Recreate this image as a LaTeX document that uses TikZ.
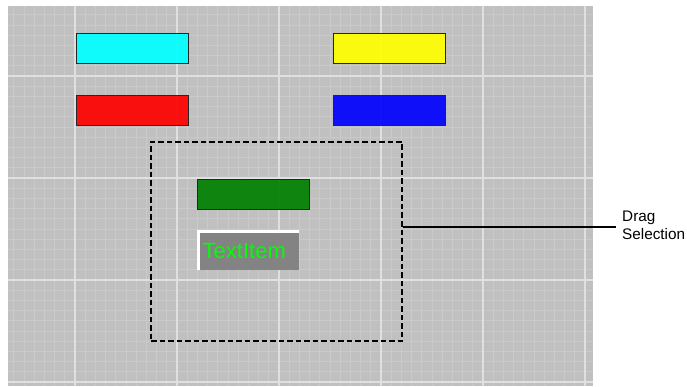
\documentclass[tikz,border=0pt]{standalone}
\usepackage{fontspec}
\setmainfont{Liberation Sans}
\begin{document}
\begin{tikzpicture}[x=1pt,y=-1pt,
  minorline/.style={draw=gridminor, line width=0.8pt},
  majorline/.style={draw=gridmajor, line width=1.2pt},
  colbox/.style={draw=black!85, line width=1pt, minimum width=112pt, minimum height=30pt,
    inner sep=0pt, anchor=north west, fill opacity=0.92},
  selbox/.style={draw=black, line width=2pt, dash pattern=on 5.5pt off 3pt,
    minimum width=251pt, minimum height=199pt, inner sep=0pt, anchor=north west},
  callout/.style={draw=black, line width=1.8pt},
  note/.style={font=\fontsize{15.3}{18}\selectfont, align=left, inner sep=0pt, anchor=north west}
]
\definecolor{canvasgrey}{HTML}{C0C0C0}
\definecolor{gridminor}{HTML}{CACACA}
\definecolor{gridmajor}{HTML}{E0E0E0}
\definecolor{itemgrey}{HTML}{808080}
\definecolor{itemcyan}{HTML}{00FFFF}
\definecolor{itemyellow}{HTML}{FFFF00}
\definecolor{itemred}{HTML}{FF0000}
\definecolor{itemblue}{HTML}{0000FF}
\definecolor{itemgreen}{HTML}{008000}
\definecolor{labelgreen}{HTML}{00FF00}

\useasboundingbox (0,0) rectangle (687,387);

% canvas with its grid
\fill[canvasgrey] (8,6) rectangle (593,386);
\begin{scope}
  \clip (8,6) rectangle (593,386);
  \foreach \k in {-7,...,52} {
    \draw[minorline] ({75+10.2*\k},6) -- ({75+10.2*\k},386);
  }
  \foreach \k in {-7,...,31} {
    \draw[minorline] (8,{76+10.2*\k}) -- (593,{76+10.2*\k});
  }
  \foreach \k in {0,...,5} {
    \draw[majorline] ({75+102*\k},6) -- ({75+102*\k},386);
  }
  \foreach \k in {0,...,3} {
    \draw[majorline] (8,{76+102*\k}) -- (593,{76+102*\k});
  }
\end{scope}

% coloured items
\node[colbox, fill=itemcyan]   (cyanbox)   at (76,33)  {};
\node[colbox, fill=itemyellow] (yellowbox) at (333,33) {};
\node[colbox, fill=itemred]    (redbox)    at (76,95)  {};
\node[colbox, fill=itemblue]   (bluebox)   at (333,95) {};
\node[colbox, fill=itemgreen]  (greenbox)  at (197,179) {};

% text item with raised bevel
\node[fill=itemgrey, fill opacity=0.95, minimum width=102pt, minimum height=40pt,
      inner sep=0pt, anchor=north west] (textitem) at (197,230) {};
\draw[white, line width=3pt]
  ([xshift=1.5pt]textitem.south west) |- ([yshift=-1.5pt]textitem.north east);
\node[anchor=base west, inner sep=0pt, text=labelgreen,
      font=\fontsize{22}{26}\selectfont] (textlabel) at (202.5,258.3) {TextItem};

% drag selection rectangle and its callout
\node[selbox] (sel) at (150,141) {};
\coordinate (calloutend) at (616,227);
\draw[callout] (calloutend -| sel.east) -- (calloutend);
\node[note] (dragnote) at (622,211) {Drag\\Selection};
\end{tikzpicture}
\end{document}
